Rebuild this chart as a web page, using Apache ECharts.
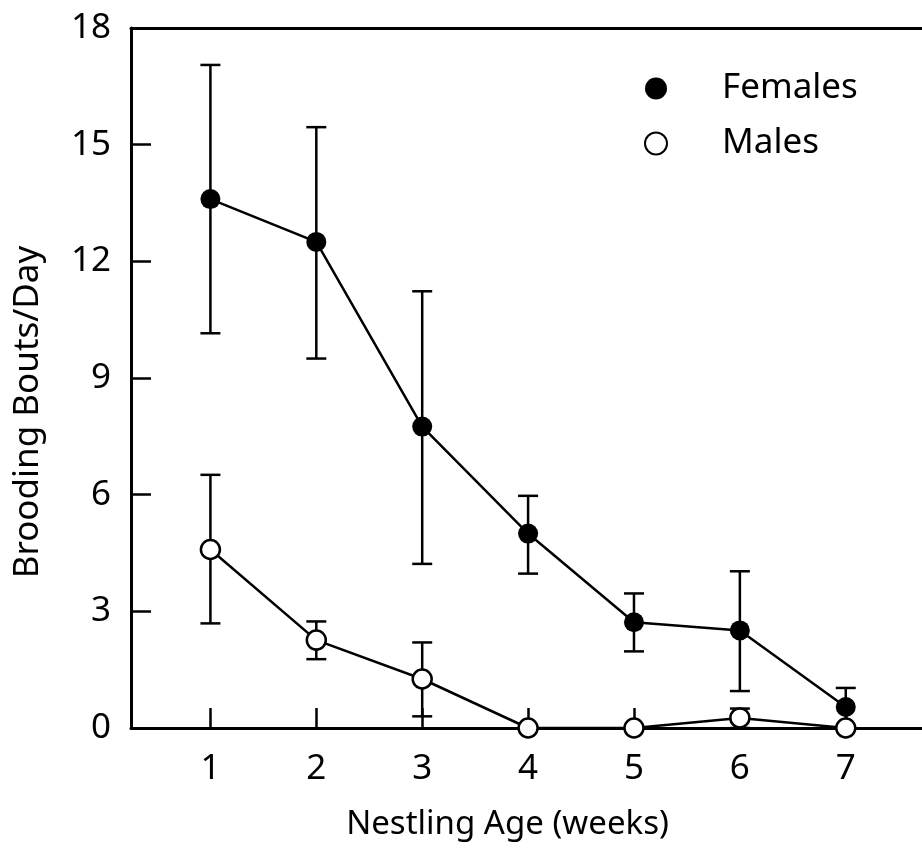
<!DOCTYPE html>
<html>
<head>
<meta charset="utf-8">
<script src="https://cdn.jsdelivr.net/npm/echarts@6/dist/echarts.min.js"></script>
<style>
html,body{margin:0;padding:0;background:#fff;}
#chart{width:922px;height:862px;}
</style>
</head>
<body>
<div id="chart"></div>
<script>
var weeks = [1, 2, 3, 4, 5, 6, 7];
var femaleMean  = [13.6, 12.5, 7.75, 5.0, 2.72, 2.51, 0.54];
var femaleUpper = [17.05, 15.45, 11.23, 5.97, 3.46, 4.03, 1.03];
var femaleLower = [10.15, 9.5, 4.22, 3.97, 1.97, 0.95, 0.05];
var maleMean  = [4.59, 2.26, 1.26, 0, 0, 0.26, 0];
var maleUpper = [6.51, 2.74, 2.2, 0, 0, 0.5, 0];
var maleLower = [2.69, 1.77, 0.3, 0, 0, 0, 0];
var yTicks = [0, 3, 6, 9, 12, 15, 18];

var FONT = 'Noto Sans';

function pairs(xs, ys) { return xs.map(function (x, i) { return [x, ys[i]]; }); }
function errData(xs, lo, hi) { return xs.map(function (x, i) { return [x, lo[i], hi[i]]; }); }

function renderErr(params, api) {
  var x = api.value(0), lo = api.value(1), hi = api.value(2);
  if (hi - lo <= 0) return null;
  var pHi = api.coord([x, hi]);
  var pLo = api.coord([x, lo]);
  var cw = 10;
  var style = { stroke: '#000', lineWidth: 2.5, fill: null };
  return {
    type: 'group',
    children: [
      { type: 'line', shape: { x1: pHi[0], y1: pHi[1], x2: pLo[0], y2: pLo[1] }, style: style },
      { type: 'line', shape: { x1: pHi[0] - cw, y1: pHi[1], x2: pHi[0] + cw, y2: pHi[1] }, style: style },
      { type: 'line', shape: { x1: pLo[0] - cw, y1: pLo[1], x2: pLo[0] + cw, y2: pLo[1] }, style: style }
    ]
  };
}

var chart = echarts.init(document.getElementById('chart'), null, { renderer: 'canvas' });
chart.setOption({
  animation: false,
  backgroundColor: '#fff',
  textStyle: { fontFamily: FONT, color: '#000' },
  grid: { left: 131, right: 0, top: 28, bottom: 134, containLabel: false },
  legend: {
    orient: 'vertical',
    left: 639,
    top: 66,
    itemWidth: 22,
    itemHeight: 22,
    itemGap: 20,
    textStyle: { fontFamily: FONT, fontSize: 35, lineHeight: 35, color: '#000', padding: [0, 0, 0, 50] },
    data: [
      { name: 'Females', icon: 'circle', itemStyle: { color: '#000', borderWidth: 0 } },
      { name: 'Males', icon: 'circle', itemStyle: { color: '#fff', borderColor: '#000', borderWidth: 2 } }
    ]
  },
  xAxis: [{
    type: 'value',
    min: 0.25,
    max: 7.72,
    axisLine: { show: true, onZero: false, lineStyle: { color: '#000', width: 3 } },
    axisTick: { show: true, inside: true, length: 20, customValues: weeks, lineStyle: { color: '#000', width: 2.5 } },
    axisLabel: { show: true, customValues: weeks, fontFamily: FONT, fontSize: 35, color: '#000', margin: 24 },
    splitLine: { show: false },
    name: 'Nestling Age (weeks)',
    nameLocation: 'middle',
    nameGap: 80,
    nameTextStyle: { fontFamily: FONT, fontSize: 33, color: '#000', padding: [0, 38, 0, 0] }
  }, {
    type: 'value',
    position: 'top',
    min: 0.25,
    max: 7.72,
    axisLine: { show: true, onZero: false, lineStyle: { color: '#000', width: 3 } },
    axisTick: { show: false },
    axisLabel: { show: false },
    splitLine: { show: false }
  }],
  yAxis: {
    type: 'value',
    min: 0,
    max: 18,
    interval: 3,
    axisLine: { show: true, onZero: false, lineStyle: { color: '#000', width: 3 } },
    axisTick: { show: true, inside: true, length: 20, lineStyle: { color: '#000', width: 2.5 } },
    axisLabel: { fontFamily: FONT, fontSize: 35, color: '#000', margin: 20 },
    splitLine: { show: false },
    name: 'Brooding Bouts/Day',
    nameLocation: 'middle',
    nameGap: 85,
    nameRotate: 90,
    nameTextStyle: { fontFamily: FONT, fontSize: 35, color: '#000', padding: [0, 68, 0, 0] }
  },
  series: [
    {
      type: 'custom',
      name: 'femErr',
      renderItem: renderErr,
      data: errData(weeks, femaleLower, femaleUpper),
      encode: { x: 0, y: [1, 2] },
      z: 1,
      silent: true
    },
    {
      type: 'custom',
      name: 'maleErr',
      renderItem: renderErr,
      data: errData(weeks, maleLower, maleUpper),
      encode: { x: 0, y: [1, 2] },
      z: 1,
      silent: true
    },
    {
      type: 'line',
      name: 'Females',
      data: pairs(weeks, femaleMean),
      symbol: 'circle',
      symbolSize: 20,
      lineStyle: { color: '#000', width: 2.5 },
      itemStyle: { color: '#000', borderWidth: 0 },
      z: 3
    },
    {
      type: 'line',
      name: 'Males',
      data: pairs(weeks, maleMean),
      symbol: 'circle',
      symbolSize: 19,
      lineStyle: { color: '#000', width: 2.5 },
      itemStyle: { color: '#fff', borderColor: '#000', borderWidth: 2.5 },
      z: 4
    }
  ]
});
</script>
</body>
</html>
